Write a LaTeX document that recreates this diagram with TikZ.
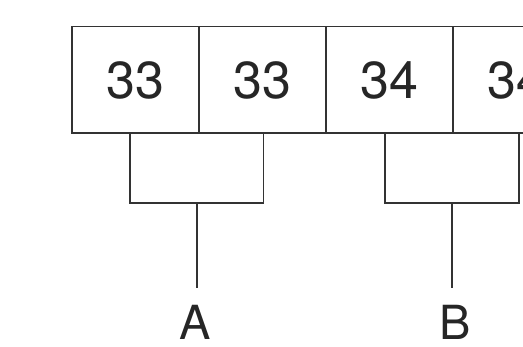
\documentclass[tikz,border=0pt]{standalone}
\usepackage{fontspec}
\setmainfont{TeX Gyre Heros}
\usetikzlibrary{positioning}

\begin{document}
\begin{tikzpicture}[
  x=1pt, y=-1pt,
  node distance=0pt,
  cell/.style={draw=black!80, line width=1.6pt, minimum width=127pt, minimum height=106.6pt, inner sep=0pt, outer sep=0pt, text=black!85, font=\fontsize{52}{52}\selectfont},
  tag/.style={inner sep=0pt, text depth=0pt, text=black!85, font=\fontsize{47}{47}\selectfont},
  wire/.style={draw=black!80, line width=1.6pt}
]
\useasboundingbox (0,0) rectangle (523,347);
\clip (0,0) rectangle (523,347);
\node[cell] (c1) at (135.2,80) {33};
\node[cell, right=of c1] (c2) {33};
\node[cell, right=of c2] (c3) {34};
\node[cell, right=of c3] (c4) {34};

% bracket A
\coordinate (lA) at (130,133.3);
\coordinate (rA) at (263.3,133.3);
\coordinate (jA) at (196.7,203.3);
\node[tag] (A) at (195,322.5) {A};
\draw[wire] (lA) |- (jA) -| (rA);
\draw[wire] (jA) -- (196.7,288);

% bracket B
\coordinate (lB) at (385,133.3);
\coordinate (rB) at (519,133.3);
\coordinate (jB) at (451.7,203.3);
\node[tag] (B) at (455,322.5) {B};
\draw[wire] (lB) |- (jB) -| (rB);
\draw[wire] (jB) -- (451.7,288);
\end{tikzpicture}
\end{document}
